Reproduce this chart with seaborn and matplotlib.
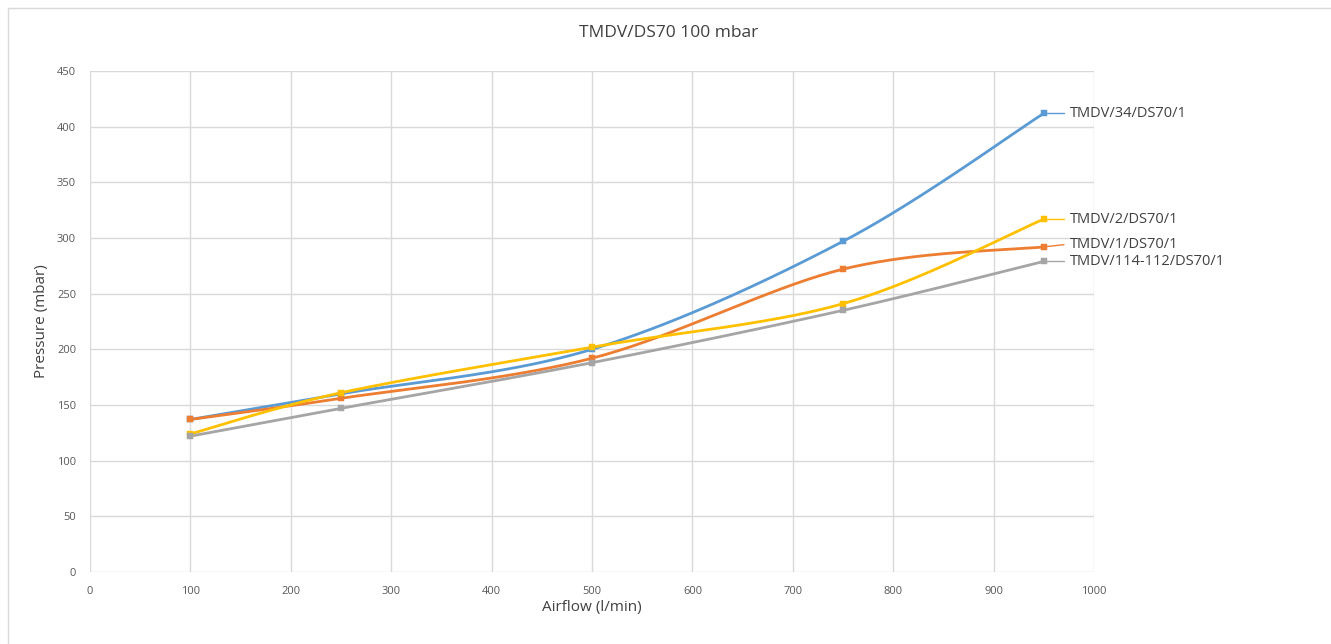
import numpy as np
import pandas as pd
import matplotlib
matplotlib.use("Agg")
import matplotlib.pyplot as plt
import seaborn as sns

airflow = [100, 250, 500, 750, 950]
series_names = ["TMDV/34/DS70/1", "TMDV/1/DS70/1", "TMDV/2/DS70/1", "TMDV/114-112/DS70/1"]
p_34 = [137, 160, 200, 297, 412]
p_1 = [137, 156, 192, 272, 292]
p_2 = [124, 161, 202, 241, 317]
p_114 = [122, 147, 188, 235, 279]
colors = ["#5B9BD5", "#ED7D31", "#FFC000", "#A5A5A5"]
# label y offsets (in mbar) so the right-hand labels do not collide
label_shift = [0, 2, 0, 0]


def smooth(x, y, n=40):
    # Excel style smoothed line: Catmull-Rom through the points
    x = np.asarray(x, float)
    y = np.asarray(y, float)
    px = np.concatenate([[x[0]], x, [x[-1]]])
    py = np.concatenate([[y[0]], y, [y[-1]]])
    xs, ys = [], []
    t = np.linspace(0, 1, n)
    for i in range(1, len(px) - 2):
        p0, p1, p2, p3 = (np.array([px[j], py[j]]) for j in range(i - 1, i + 3))
        c1 = p1 + (p2 - p0) / 6
        c2 = p2 - (p3 - p1) / 6
        b = ((1 - t) ** 3)[:, None] * p1 + (3 * (1 - t) ** 2 * t)[:, None] * c1 \
            + (3 * (1 - t) * t ** 2)[:, None] * c2 + (t ** 3)[:, None] * p2
        xs.extend(b[:, 0])
        ys.extend(b[:, 1])
    return np.array(xs), np.array(ys)


sns.set_style("white")
plt.rcParams["font.family"] = ["Open Sans", "DejaVu Sans"]

fig = plt.figure(figsize=(13.31, 6.44), dpi=100)
ax = fig.add_axes([0.0676, 0.1118, 0.7544, 0.778])

# chart border like the Excel frame
fig.patches.append(plt.Rectangle((8 / 1331, -0.01), 1.02, 1 - 8 / 644 + 0.01,
                                 transform=fig.transFigure, fill=False,
                                 edgecolor="#D9D9D9", linewidth=1.0))

all_series = [p_34, p_1, p_2, p_114]
for name, vals, col in zip(series_names, all_series, colors):
    sx, sy = smooth(airflow, vals)
    df = pd.DataFrame({"x": sx, "y": sy})
    sns.lineplot(data=df, x="x", y="y", sort=False, color=col, linewidth=2.0,
                 ax=ax, zorder=3)
    pts = pd.DataFrame({"x": airflow, "y": vals})
    sns.scatterplot(data=pts, x="x", y="y", color=col, marker="s", s=16,
                    edgecolor=col, ax=ax, zorder=4)

for name, vals, col, sh in zip(series_names, all_series, colors, label_shift):
    ax.plot([airflow[-1], 970], [vals[-1], vals[-1] + sh], color=col,
            linewidth=1.0, clip_on=False, zorder=4)
    ax.text(976, vals[-1] + sh, name, va="center", ha="left", fontsize=10.5,
            color="#404040", clip_on=False)

ax.set_xlim(0, 1000)
ax.set_ylim(0, 450)
ax.set_xticks(range(0, 1001, 100))
ax.set_yticks(range(0, 451, 50))
ax.grid(True, color="#D9D9D9", linewidth=1.0)
ax.set_axisbelow(True)
for s in ax.spines.values():
    s.set_visible(False)
ax.tick_params(axis="both", length=0, labelsize=8, labelcolor="#595959", pad=10)

ax.set_xlabel("Airflow (l/min)", fontsize=11, color="#404040", labelpad=2)
ax.set_ylabel("Pressure (mbar)", fontsize=11, color="#404040", labelpad=6)
fig.text(0.502, 1 - 33 / 644, "TMDV/DS70 100 mbar", fontsize=12.5,
         color="#404040", ha="center", va="center")

fig.savefig("out.png", dpi=100)
